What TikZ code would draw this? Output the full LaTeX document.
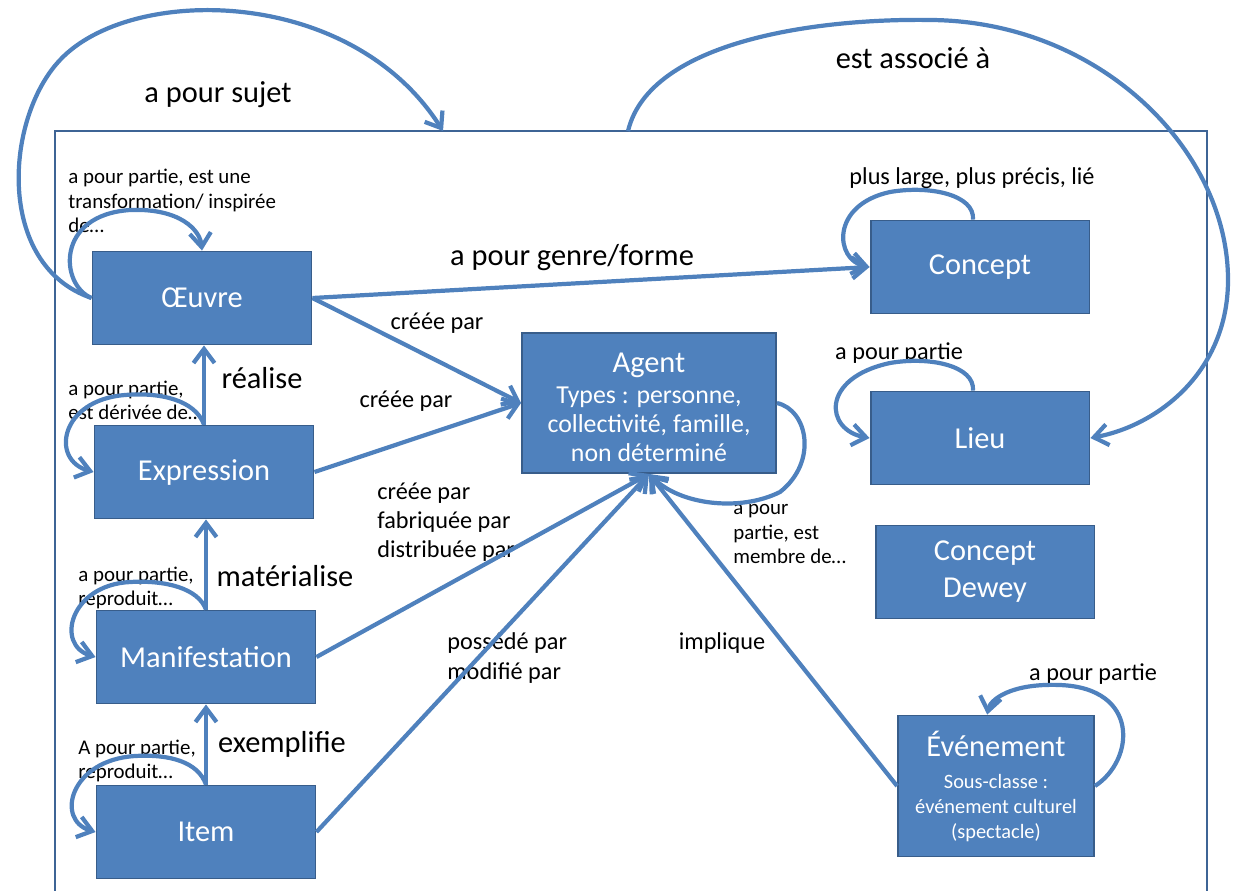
\documentclass[tikz,border=0pt]{standalone}
\usepackage{fontspec}
\setmainfont{Carlito}
\usetikzlibrary{arrows.meta}
\definecolor{bleuclasse}{HTML}{4F81BD}
\definecolor{bordclasse}{HTML}{385D8A}
\definecolor{bleucadre}{HTML}{3E6495}
\newcommand\titreclasse[1]{{\fontsize{17.3}{21}\selectfont #1}}

\begin{document}
\begin{tikzpicture}[x=0.02cm, y=-0.02cm,
  classe/.style={draw=bordclasse, line width=1.1pt, fill=bleuclasse, text=white, align=center,
    minimum width=4.38cm, minimum height=1.86cm, inner sep=2pt, font=\fontsize{17.3}{21}\selectfont},
  lien/.style={draw=bleuclasse, line width=2.4pt, -{Straight Barb[length=8pt,width=12pt]}},
  grand/.style={font=\fontsize{17.3}{21}\selectfont, inner sep=0pt},
  moyen/.style={font=\fontsize{13.8}{16.5}\selectfont, inner sep=0pt, align=left},
  petit/.style={font=\fontsize{11.9}{13.8}\selectfont, inner sep=0pt, align=left},
]
\useasboundingbox (0,0) rectangle (1233,890);

% cadre
\draw[bleucadre, line width=1.4pt] (55,900) -- (55,131) -- (1207,131) -- (1207,900);
\coordinate (sujet) at (443,131);
\coordinate (assoc) at (628,131);

\node[classe] (oeuvre) at (202,298) {Œuvre};
\node[classe] (expression) at (204,472) {Expression};
\node[classe] (manif) at (206,657) {Manifestation};
\node[classe] (item) at (206,832) {Item};
\node[classe, minimum width=5.08cm, minimum height=2.8cm, font=\fontsize{14.7}{16.7}\selectfont] (agent) at (649,403)
  {\titreclasse{\rule{0pt}{16pt}Agent}\\[1pt]Types : personne,\\collectivité, famille,\\non déterminé};
\node[classe] (concept) at (980,267) {Concept};
\node[classe] (lieu) at (980,438) {Lieu};
\node[classe] (dewey) at (985,572) {Concept\\Dewey};
\node[classe, minimum width=3.92cm, minimum height=2.82cm, font=\fontsize{11.6}{14.2}\selectfont] (evenement) at (996,786)
  {\titreclasse{Événement}\\[4pt]Sous-classe :\\événement culturel\\(spectacle)};

% libelles
\node[grand] (lsujet) at (218,95) {a pour sujet};
\node[grand] (lassoc) at (913,58) {est associé à};
\node[grand] (lgenre) at (572,258) {a pour genre/forme};
\node[grand] (lrealise) at (262,378) {réalise};
\node[grand] (lmateria) at (285,576) {matérialise};
\node[grand] (lexempl) at (282,744) {exemplifie};
\node[moyen] (lcree1) at (437,323) {créée par};
\node[moyen] (lcree2) at (406,401) {créée par};
\node[moyen, anchor=west] (lfabrique) at (377,522) {créée par\\fabriquée par\\distribuée par};
\node[moyen, anchor=west, font=\fontsize{13.8}{17}\selectfont] (lpossede) at (447,658) {possédé par\\modifié par};
\node[moyen] (limplique) at (722,643) {implique};
\node[moyen] (lplus) at (972,178) {plus large, plus précis, lié};
\node[moyen] (lpartlieu) at (899,353) {a pour partie};
\node[moyen] (lpartev) at (1093,674) {a pour partie};
\node[petit, anchor=west] (lpartoeuvre) at (68,201) {a pour partie, est une\\transformation/ inspirée\\de…};
\node[petit, anchor=west] (lpartexpr) at (68,400) {a pour partie,\\est dérivée de…};
\node[petit, anchor=west] (lpartmanif) at (78,588) {a pour partie,\\reproduit…};
\node[petit, anchor=west] (lpartitem) at (78,761) {A pour partie,\\reproduit…};
\node[petit, anchor=west] (lpartagent) at (733,534) {a pour\\partie, est\\membre de…};

% liens
\draw[lien] (oeuvre.east) -- (concept.west);
\draw[lien] (oeuvre.east) -- (agent.west);
\draw[lien] (expression.east) -- (agent.west);
\draw[lien] (manif.east) -- (agent.south);
\draw[lien] (item.east) -- (agent.south);
\draw[lien] (evenement.west) -- (agent.south);
\draw[lien] (expression.north) -- (expression.north |- oeuvre.south);
\draw[lien] (manif.north) -- (manif.north |- expression.south);
\draw[lien] (item.north) -- (item.north |- manif.south);

\draw[lien] (oeuvre.west) .. controls (-5,265) and (5,118) .. (60,60)
  .. controls (130,-15) and (350,-15) .. (sujet);
\draw[lien] (assoc) .. controls (650,40) and (820,18) .. (932,20)
  .. controls (1100,22) and (1228,150) .. (1228,280)
  .. controls (1228,370) and (1160,425) .. (lieu.east);

\draw[lien] (oeuvre.west) .. controls (60,285) and (55,215) .. (130,210)
  .. controls (180,208) and (200,230) .. (oeuvre.north);
\draw[lien] (expression.north) .. controls (195,400) and (160,392) .. (125,395)
  .. controls (60,400) and (50,460) .. (expression.west);
\draw[lien] (manif.north) .. controls (198,588) and (165,580) .. (130,582)
  .. controls (70,585) and (55,645) .. (manif.west);
\draw[lien] (item.north) .. controls (198,762) and (170,754) .. (135,756)
  .. controls (70,760) and (55,820) .. (item.west);
\draw[lien] ([xshift=-4pt]concept.north) .. controls (975,195) and (930,185) .. (890,192)
  .. controls (830,205) and (835,260) .. (concept.west);
\draw[lien] ([xshift=-4pt]lieu.north) .. controls (975,366) and (930,356) .. (890,363)
  .. controls (820,378) and (825,430) .. (lieu.west);
\draw[lien] (agent.east) .. controls (808,410) and (818,462) .. (780,492)
  .. controls (740,512) and (680,505) .. (agent.south);
\draw[lien] (evenement.east) .. controls (1135,760) and (1140,688) .. (1060,685)
  .. controls (1010,683) and (990,700) .. ([xshift=-5pt]evenement.north);

\end{tikzpicture}
\end{document}
